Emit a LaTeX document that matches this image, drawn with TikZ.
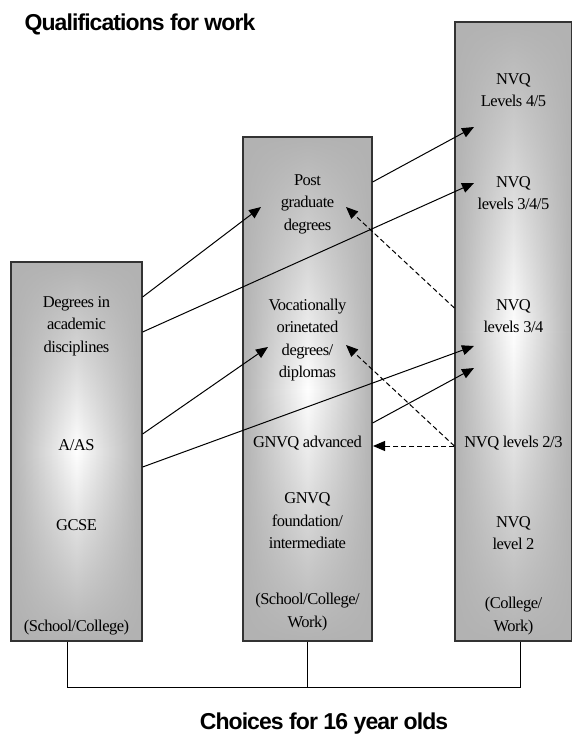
\documentclass[tikz,border=0pt]{standalone}
\usepackage{fontspec}
\setmainfont{Liberation Serif}[LetterSpace=-3]
\newfontfamily\headfont{Liberation Sans}[LetterSpace=-4]
\usetikzlibrary{arrows.meta,fadings,backgrounds}

\definecolor{boxgrey}{gray}{0.70}
\tikzfading[name=midband,top color=transparent!100,bottom color=transparent!100,middle color=transparent!0]
\newcommand{\bodyfont}{\fontsize{16.5}{22.5}\selectfont}

\begin{document}
\begin{tikzpicture}[x=1pt,y=-1pt,
  column/.style={draw=black!80,line width=1.2pt,inner sep=0pt},
  txt/.style={align=center,font=\bodyfont,inner sep=0pt},
  arr/.style={-{Triangle[length=12pt,width=10pt]},line width=1pt},
  darr/.style={arr,dash pattern=on 5pt off 3pt},
  title/.style={font=\headfont\bfseries\fontsize{23}{26}\selectfont}]
  \useasboundingbox (0,0) rectangle (574,740);

  % the three columns
  \node[column,minimum width=131pt,minimum height=379pt] (school) at (76.5,451.5) {};
  \node[column,minimum width=129pt,minimum height=504pt] (college) at (307.5,389) {};
  \node[column,minimum width=116.5pt,minimum height=619pt] (work) at (513.25,331.5) {};
  \begin{scope}[on background layer]
    \foreach \c in {school,college,work} {
      \fill[boxgrey] (\c.north west) rectangle (\c.south east);
      \shade[left color=boxgrey,right color=boxgrey,middle color=white,path fading=midband]
        (\c.north west) rectangle (\c.south east);
    }
  \end{scope}

  % left column
  \node[txt] (degrees) at (76.5,326) {Degrees in\\academic\\disciplines};
  \node[txt] (aas) at (76.5,445) {A/AS};
  \node[txt] (gcse) at (76.5,525) {GCSE};
  \node[txt] (schcol) at (76.5,628) {(School/College)};

  % middle column
  \node[txt] (pgrad) at (307.5,204) {Post\\graduate\\degrees};
  \node[txt] (voc) at (307.5,340) {Vocationally\\orinetated\\degrees/\\diplomas};
  \node[txt] (gadv) at (307.5,443) {GNVQ advanced};
  \node[txt] (gfound) at (307.5,521) {GNVQ\\foundation/\\intermediate};
  \node[txt] (scw) at (307.5,612) {(School/College/\\Work)};

  % right column
  \node[txt] (nvq45) at (513.5,90) {NVQ\\Levels 4/5};
  \node[txt] (nvq345) at (513.5,193) {NVQ\\levels 3/4/5};
  \node[txt] (nvq34) at (513.5,316) {NVQ\\levels 3/4};
  \node[txt] (nvq23) at (513.5,443) {NVQ levels 2/3};
  \node[txt] (nvq2) at (513.5,533) {NVQ\\level 2};
  \node[txt] (cw) at (513.5,616) {(College/\\Work)};

  % arrow ends
  \coordinate (toPG) at (261,207);
  \coordinate (toPGd) at (346,207);
  \coordinate (toVoc) at (268,347);
  \coordinate (toVocd) at (346,345);
  \coordinate (toGadv) at (373,446);
  \coordinate (to45) at (474,127);
  \coordinate (to345) at (474,183);
  \coordinate (to34a) at (474,346);
  \coordinate (to34b) at (474,368);

  \draw[arr] (school.east |- 0,297) -- (toPG);
  \draw[arr] (school.east |- 0,332) -- (to345);
  \draw[arr] (college.east |- 0,182) -- (to45);
  \draw[arr] (school.east |- 0,434) -- (toVoc);
  \draw[arr] (school.east |- 0,467) -- (to34a);
  \draw[arr] (college.east |- 0,423) -- (to34b);
  \draw[darr] (work.west |- 0,308) -- (toPGd);
  \draw[darr] (work.west |- 0,446) -- (toVocd);
  \draw[darr] (work.west |- 0,446) -- (toGadv);

  % joining line under the columns
  \coordinate (bus) at (0,687);
  \draw[line width=1pt] (school.south -| 67,0) -- (67,687) -| (work.south -| 520,0);
  \draw[line width=1pt] (college.south) -- (college.south |- bus);

  \node[title] (qual) at (140,24) {Qualifications for work};
  \node[title] (choices) at (324,724) {Choices for 16 year olds};
\end{tikzpicture}
\end{document}
